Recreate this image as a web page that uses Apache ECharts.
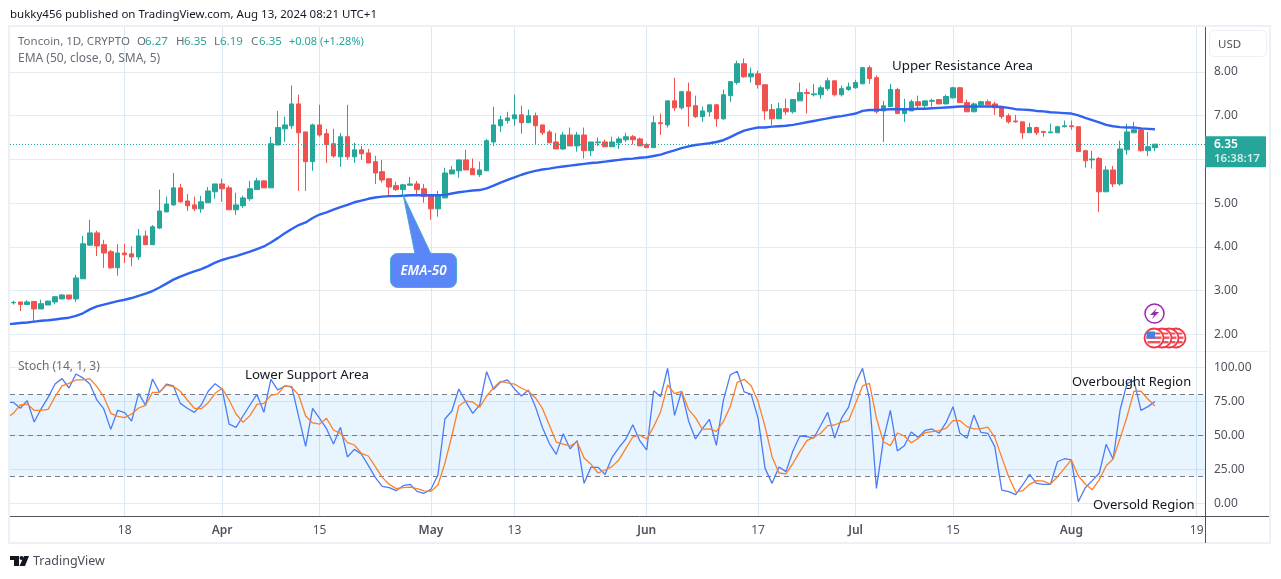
<!DOCTYPE html>
<html>
<head>
<meta charset="utf-8">
<title>Toncoin 1D</title>
<script src="https://cdn.jsdelivr.net/npm/echarts@6/dist/echarts.min.js"></script>
<style>
  html, body { margin: 0; padding: 0; background: #fff; }
  #chart { width: 1281px; height: 579px; }
</style>
</head>
<body>
<div id="chart"></div>
<script>
// day index 0 is 2 Mar 2024, the last candle (164) is 13 Aug
const tickDays = [16, 30, 44, 60, 72, 91, 107, 121, 135, 152, 170];
const tickLabels = ['18', 'Apr', '15', 'May', '13', 'Jun', '17', 'Jul', '15', 'Aug', '19'];
const priceTicks = [2, 3, 4, 5, 6, 7, 8];
const stochTicks = [0, 25, 50, 75, 100];

const opens = [
  2.72,2.74,2.68,2.75,2.58,2.67,2.74,2.81,2.90,2.81,
  3.27,4.04,4.32,4.05,3.89,3.52,3.86,3.84,3.77,4.25,
  4.05,4.43,4.80,4.96,5.35,5.05,4.96,4.87,5.01,5.26,
  5.44,5.35,4.85,4.94,5.10,5.31,5.51,5.35,6.33,6.70,
  6.77,7.27,6.63,5.95,6.79,6.59,6.36,6.06,6.52,6.06,
  6.22,6.15,5.95,5.72,5.56,5.40,5.31,5.41,5.44,5.33,
  5.17,4.87,5.12,5.67,5.74,5.99,5.79,5.65,5.74,6.40,
  6.77,6.89,6.93,7.02,6.84,7.00,6.79,6.63,6.40,6.24,
  6.56,6.31,6.56,6.20,6.38,6.40,6.29,6.38,6.45,6.52,
  6.47,6.34,6.27,6.84,6.79,7.34,7.18,7.55,7.23,6.98,
  7.09,7.25,6.93,7.46,7.76,8.19,7.89,7.96,7.71,7.14,
  6.93,7.16,7.09,7.34,7.53,7.48,7.48,7.62,7.80,7.48,
  7.60,7.64,7.73,8.10,7.87,7.11,7.21,7.60,7.05,7.11,
  7.32,7.23,7.33,7.37,7.27,7.41,7.64,7.30,7.09,7.25,
  7.32,7.27,7.21,7.00,6.88,6.86,6.61,6.73,6.64,6.61,
  6.61,6.75,6.77,6.75,6.20,5.99,6.02,5.26,5.76,5.44,
  6.22,6.61,6.68,6.20,6.27
];
const closes = [
  2.73,2.68,2.74,2.58,2.70,2.76,2.86,2.90,2.81,3.29,
  4.07,4.32,4.02,3.86,3.52,3.86,3.82,3.77,4.25,4.05,
  4.46,4.82,4.98,5.35,5.03,4.94,4.87,5.03,5.28,5.44,
  5.33,4.85,4.96,5.12,5.33,5.51,5.35,6.36,6.73,6.79,
  7.27,6.61,5.95,6.79,6.56,6.34,6.08,6.52,6.06,6.22,
  6.13,5.92,5.69,5.53,5.37,5.31,5.42,5.44,5.31,5.15,
  4.87,5.17,5.69,5.76,5.99,5.76,5.65,5.76,6.43,6.79,
  6.91,6.95,7.02,6.84,7.00,6.77,6.61,6.38,6.24,6.56,
  6.31,6.56,6.20,6.40,6.40,6.29,6.40,6.47,6.52,6.45,
  6.31,6.27,6.84,6.82,7.34,7.18,7.55,7.21,6.98,7.11,
  7.25,6.93,7.48,7.78,8.19,7.89,7.96,7.71,7.11,6.93,
  7.16,7.09,7.37,7.53,7.51,7.50,7.64,7.80,7.48,7.62,
  7.66,7.76,8.10,7.85,7.09,7.23,7.60,7.05,7.14,7.32,
  7.23,7.34,7.35,7.27,7.44,7.64,7.30,7.09,7.27,7.32,
  7.25,7.18,6.98,6.86,6.86,6.61,6.73,6.61,6.62,6.63,
  6.75,6.77,6.75,6.18,5.97,6.01,5.26,5.76,5.44,6.24,
  6.63,6.68,6.20,6.29,6.35
];
const highs = [
  2.77,2.74,2.78,2.76,2.79,2.77,2.86,2.92,2.90,3.36,
  4.25,4.62,4.37,4.16,3.93,4.06,4.07,4.02,4.41,4.37,
  4.50,5.31,5.15,5.69,5.44,5.21,5.15,5.17,5.37,5.44,
  5.56,5.40,5.24,5.17,5.51,5.58,5.51,6.52,7.11,6.98,
  7.69,7.48,6.63,6.82,7.25,6.70,6.70,6.61,7.25,6.38,
  6.31,6.24,6.08,5.99,5.56,5.49,5.44,5.60,5.51,5.44,
  5.19,5.28,5.81,5.85,5.99,6.22,6.02,5.95,6.47,7.21,
  7.00,7.09,7.48,7.23,7.14,7.07,6.79,6.68,6.61,6.63,
  6.73,6.63,6.73,6.40,6.50,6.45,6.52,6.52,6.61,6.56,
  6.50,6.38,7.00,7.05,7.34,7.87,7.57,7.76,7.46,7.21,
  7.25,7.27,7.60,7.78,8.26,8.31,8.10,8.03,7.71,7.27,
  7.30,7.39,7.37,7.76,7.62,7.73,7.69,7.87,7.80,7.69,
  7.76,7.82,8.12,8.15,7.92,7.34,7.73,7.64,7.39,7.37,
  7.46,7.34,7.39,7.37,7.48,7.66,7.66,7.37,7.30,7.34,
  7.37,7.32,7.23,7.05,7.02,6.86,6.84,6.75,6.66,6.82,
  6.77,6.89,6.89,6.75,6.22,6.20,6.06,5.85,5.85,6.43,
  6.82,6.86,6.73,6.63,6.35
];
const lows = [
  2.68,2.53,2.68,2.28,2.58,2.67,2.69,2.80,2.79,2.74,
  3.27,4.02,3.79,3.52,3.50,3.34,3.63,3.56,3.70,4.05,
  4.05,4.41,4.80,4.94,5.01,4.82,4.82,4.78,5.01,5.10,
  5.03,4.85,4.73,4.89,5.05,5.31,5.35,5.35,6.33,6.40,
  6.70,5.28,5.28,5.74,6.52,5.92,6.04,5.83,5.99,5.92,
  5.99,5.92,5.44,5.47,5.15,5.28,5.19,5.40,5.19,5.01,
  4.62,4.69,5.12,5.67,5.58,5.76,5.65,5.60,5.74,6.31,
  6.63,6.82,6.77,6.59,6.84,6.34,6.56,6.38,6.24,6.22,
  6.31,6.18,6.02,6.08,6.31,6.29,6.29,6.24,6.40,6.34,
  6.31,6.27,6.27,6.56,6.73,7.11,7.14,6.75,6.95,6.86,
  6.98,6.75,6.91,7.32,7.71,7.87,7.76,7.62,6.91,6.79,
  6.93,7.02,7.05,7.34,7.05,7.44,7.39,7.57,7.44,7.44,
  7.57,7.62,7.73,7.73,7.05,6.40,7.21,7.05,6.86,7.11,
  7.18,7.14,7.21,7.27,7.27,7.39,7.30,7.09,7.09,7.21,
  7.25,7.02,6.93,6.82,6.84,6.47,6.61,6.56,6.52,6.61,
  6.61,6.73,6.68,6.18,5.81,5.79,4.80,5.26,5.37,5.40,
  6.11,6.61,6.18,6.08,6.19
];

// these three start one day earlier (1 Mar), the pane clips that first point
const ema50 = [
  2.23,
  2.24,2.26,2.27,2.29,2.31,2.32,2.34,2.36,2.38,2.42,
  2.48,2.57,2.64,2.68,2.72,2.76,2.79,2.83,2.88,2.93,
  2.99,3.07,3.16,3.25,3.32,3.38,3.44,3.49,3.56,3.64,
  3.70,3.75,3.79,3.84,3.89,3.95,4.01,4.10,4.20,4.31,
  4.41,4.50,4.56,4.66,4.74,4.79,4.85,4.91,4.96,5.02,
  5.06,5.10,5.13,5.15,5.16,5.16,5.17,5.18,5.18,5.18,
  5.18,5.18,5.19,5.22,5.25,5.27,5.29,5.30,5.34,5.40,
  5.47,5.53,5.59,5.65,5.70,5.74,5.77,5.79,5.82,5.84,
  5.86,5.88,5.90,5.92,5.93,5.95,5.97,5.99,6.01,6.02,
  6.04,6.05,6.08,6.11,6.16,6.21,6.26,6.30,6.33,6.35,
  6.37,6.40,6.44,6.51,6.59,6.66,6.70,6.73,6.73,6.75,
  6.76,6.77,6.79,6.82,6.85,6.88,6.91,6.94,6.97,6.99,
  7.02,7.05,7.11,7.13,7.13,7.14,7.15,7.15,7.15,7.15,
  7.16,7.16,7.17,7.18,7.19,7.20,7.21,7.21,7.21,7.21,
  7.21,7.21,7.20,7.18,7.15,7.14,7.13,7.11,7.10,7.08,
  7.07,7.06,7.05,7.01,6.95,6.90,6.85,6.79,6.76,6.74,
  6.73,6.73,6.71,6.70,6.69
];
const stochK = [
  74.3,
  74.3,69.9,75.5,59.8,69.4,77.9,87.7,91.7,84.8,95.1,
  92.2,87.7,76.0,69.4,54.4,68.4,66.7,60.5,80.9,72.1,
  91.4,81.6,87.7,86.3,73.5,69.9,66.9,72.3,82.4,88.0,
  84.1,58.3,55.9,64.2,72.3,80.1,66.9,91.2,83.3,86.3,
  85.8,63.7,41.9,69.9,62.5,54.9,43.6,55.9,34.1,39.7,
  36.3,27.9,19.1,12.5,11.5,9.3,13.0,14.0,8.8,7.4,
  10.3,20.8,62.0,67.9,84.1,74.8,66.2,72.3,96.8,83.8,
  89.2,90.7,84.1,78.9,83.3,71.1,55.9,44.1,36.0,51.2,
  40.0,46.1,14.7,26.7,26.5,21.3,33.6,40.9,47.3,57.8,
  46.1,39.2,82.8,78.4,99.3,64.7,82.4,60.8,47.3,54.9,
  61.8,42.6,75.5,94.4,97.1,81.9,80.1,62.5,25.7,14.7,
  26.7,23.3,38.5,49.5,49.0,48.0,57.4,66.9,48.0,62.7,
  70.8,88.2,99.3,76.7,11.0,46.6,68.4,38.5,42.4,52.5,
  48.5,53.7,54.7,51.5,59.3,71.1,51.5,47.8,65.0,52.2,
  51.5,41.7,9.8,8.6,6.4,13.5,21.3,14.7,14.0,14.0,
  30.6,32.8,31.9,1.2,11.5,16.7,22.1,43.4,32.4,68.6,
  88.2,90.2,68.4,71.1,74.8
];
const stochD = [
  62.5,
  66.2,72.3,73.0,68.4,68.4,69.1,78.4,86.3,88.2,90.7,
  90.7,91.7,85.8,78.4,66.2,64.0,63.0,65.7,70.1,72.1,
  81.6,81.6,87.0,85.8,82.4,76.0,69.9,69.6,74.0,80.9,
  84.6,76.0,65.7,59.6,64.5,72.8,73.5,79.4,80.4,86.5,
  85.3,79.7,64.2,59.1,58.3,62.5,53.9,51.5,44.6,42.9,
  36.8,34.8,27.0,19.1,14.0,10.8,11.5,12.0,10.8,9.1,
  8.8,13.5,29.4,49.5,71.6,75.2,74.5,70.6,78.9,85.0,
  89.7,88.5,87.7,84.6,82.4,77.7,69.9,57.6,45.1,43.6,
  42.2,45.3,33.3,28.7,22.3,24.5,27.0,31.9,40.4,48.8,
  50.2,47.3,56.4,67.4,87.0,80.6,82.4,69.1,63.0,54.4,
  54.7,52.9,60.0,71.1,89.0,91.2,86.5,74.8,56.4,34.3,
  22.3,21.6,29.4,38.0,46.1,48.5,51.5,57.1,57.6,59.8,
  60.8,73.5,86.3,88.2,62.5,45.3,42.4,51.7,49.5,44.6,
  47.8,52.0,52.7,53.4,55.1,60.8,60.8,56.4,54.7,54.9,
  56.1,48.5,33.8,19.6,8.3,9.3,14.0,16.7,16.4,14.2,
  19.6,25.7,31.9,20.1,14.2,10.0,17.2,27.7,32.6,47.8,
  63.7,82.4,82.4,76.7,71.6
];

const UP = '#26a69a';
const DOWN = '#ef5350';
const GRID_H = '#e4ecf3';
const GRID_V = '#dde8f1';
const AXIS = '#50535e';
const TEXT = '#131722';
const MUTED = '#6a6d78';
const FONT = '"Noto Sans", sans-serif';

const candleData = opens.map((o, i) => [i, o, closes[i], lows[i], highs[i]]);
const dayPoints = vals => vals.map((v, i) => [i - 1, v]);
const lastClose = closes[closes.length - 1];

const chart = echarts.init(document.getElementById('chart'), null, { renderer: 'canvas' });

const xBase = {
  type: 'value',
  min: -0.474,
  max: 171.2,
  axisLine: { show: false },
  axisTick: { show: false, customValues: tickDays },
  splitLine: { show: true, lineStyle: { color: GRID_V, width: 1 } }
};

const option = {
  animation: false,
  backgroundColor: '#fff',
  textStyle: { fontFamily: FONT },
  grid: [
    { left: 10, top: 27, width: 1195, height: 324 },
    { left: 10, top: 351, width: 1195, height: 165 }
  ],
  xAxis: [
    { ...xBase, gridIndex: 0, axisLabel: { show: false, customValues: tickDays } },
    {
      ...xBase,
      gridIndex: 1,
      axisLabel: {
        customValues: tickDays,
        margin: 9,
        hideOverlap: false,
        fontFamily: FONT,
        fontSize: 12,
        color: AXIS,
        formatter: v => {
          const t = tickLabels[tickDays.indexOf(v)];
          return /[a-z]/i.test(t) ? '{m|' + t + '}' : t;
        },
        rich: { m: { fontFamily: FONT, fontSize: 12, fontWeight: 600, color: AXIS } }
      }
    }
  ],
  yAxis: [
    {
      type: 'value', gridIndex: 0, position: 'right', min: 1.618, max: 9.03,
      axisLine: { show: false },
      axisTick: { show: false, customValues: priceTicks },
      splitLine: { show: true, lineStyle: { color: GRID_H } },
      axisLabel: {
        customValues: priceTicks, margin: 9, fontFamily: FONT, fontSize: 12, color: AXIS,
        formatter: v => v.toFixed(2)
      }
    },
    {
      type: 'value', gridIndex: 1, position: 'right', min: -9.3, max: 112,
      axisLine: { show: false },
      axisTick: { show: false, customValues: stochTicks },
      splitLine: { show: true, lineStyle: { color: GRID_H } },
      axisLabel: {
        customValues: stochTicks, margin: 9, fontFamily: FONT, fontSize: 12, color: AXIS,
        formatter: v => v.toFixed(2)
      }
    }
  ],
  series: [
    {
      name: 'Toncoin',
      type: 'candlestick',
      xAxisIndex: 0,
      yAxisIndex: 0,
      barWidth: 5,
      data: candleData,
      itemStyle: { color: UP, color0: DOWN, borderColor: UP, borderColor0: DOWN, borderWidth: 1 },
      markLine: {
        silent: true,
        symbol: 'none',
        label: { show: false },
        lineStyle: { color: UP, type: [1, 2], width: 1 },
        data: [{ yAxis: lastClose }]
      }
    },
    {
      name: 'EMA',
      type: 'line',
      xAxisIndex: 0,
      yAxisIndex: 0,
      data: dayPoints(ema50),
      showSymbol: false,
      lineStyle: { color: '#3062f2', width: 2.4 },
      z: 5
    },
    {
      name: '%K',
      type: 'line',
      xAxisIndex: 1,
      yAxisIndex: 1,
      data: dayPoints(stochK),
      showSymbol: false,
      lineStyle: { color: '#4a7cf7', width: 1.3 },
      z: 5,
      markArea: {
        silent: true,
        itemStyle: { color: 'rgba(33,150,243,0.1)' },
        data: [[{ yAxis: 20 }, { yAxis: 80 }]]
      },
      markLine: {
        silent: true,
        symbol: 'none',
        label: { show: false },
        lineStyle: { color: '#787b86', type: [5, 4], width: 1 },
        data: [{ yAxis: 80 }, { yAxis: 50 }, { yAxis: 20 }]
      }
    },
    {
      name: '%D',
      type: 'line',
      xAxisIndex: 1,
      yAxisIndex: 1,
      data: dayPoints(stochD),
      showSymbol: false,
      lineStyle: { color: '#ff7f27', width: 1.3 },
      z: 6
    }
  ]
};
chart.setOption(option);

// tag on the price scale sits on the last close
const priceY = chart.convertToPixel({ yAxisIndex: 0 }, lastClose);

const label = (x, y, text, size, color, extra) => ({
  type: 'text',
  x, y, z: 50,
  silent: true,
  style: Object.assign({ text, fill: color, font: size + 'px ' + FONT, textVerticalAlign: 'middle' }, extra || {})
});

// flags stack back to front, the front one has the blue corner
const flagIcons = [1176, 1169, 1162, 1154].map((cx, k) => ({
  type: 'group', silent: true,
  children: [
    { type: 'circle', z: 44 + k, shape: { cx, cy: 338, r: 9.5 }, style: { fill: '#fff', stroke: '#f23645', lineWidth: 1.8 } },
    { type: 'rect', z: 44 + k, shape: { x: cx - 6, y: 332.5, width: 12.5, height: 2 }, style: { fill: '#f7525f' } },
    { type: 'rect', z: 44 + k, shape: { x: cx - 7.5, y: 336.5, width: 15, height: 2.4 }, style: { fill: '#f7525f' } },
    { type: 'rect', z: 44 + k, shape: { x: cx - 6.5, y: 341, width: 13, height: 2.4 }, style: { fill: '#f7525f' } }
  ].concat(k === 3 ? [{ type: 'rect', z: 48, shape: { x: cx - 7.5, y: 331.5, width: 8.5, height: 7 }, style: { fill: '#3f83e8' } }] : [])
}));

chart.setOption({
  graphic: [
    // frame and scale lines
    { type: 'rect', z: 40, silent: true, shape: { x: 9, y: 26, width: 1261, height: 517 },
      style: { fill: 'none', stroke: '#edf0f6', lineWidth: 2 } },
    { type: 'line', z: 41, silent: true, shape: { x1: 1205.5, y1: 27, x2: 1205.5, y2: 543 }, style: { stroke: AXIS, lineWidth: 1 } },
    { type: 'line', z: 41, silent: true, shape: { x1: 10, y1: 516.5, x2: 1269, y2: 516.5 }, style: { stroke: AXIS, lineWidth: 1 } },
    { type: 'line', z: 1, silent: true, shape: { x1: 10, y1: 351.5, x2: 1269, y2: 351.5 }, style: { stroke: '#edf0f6', lineWidth: 1 } },

    // top texts
    label(10, 15, 'bukky456 published on TradingView.com, Aug 13, 2024 08:21 UTC+1', 11.5, TEXT),
    label(18, 42, 'Toncoin, 1D, CRYPTO', 11.5, MUTED),
    label(137, 42, 'O', 11.5, MUTED),
    label(145, 42, '6.27', 11.5, UP),
    label(176, 42, 'H', 11.5, MUTED),
    label(184, 42, '6.35', 11.5, UP),
    label(214, 42, 'L', 11.5, MUTED),
    label(220, 42, '6.19', 11.5, UP),
    label(251, 42, 'C', 11.5, MUTED),
    label(259, 42, '6.35', 11.5, UP),
    label(289, 42, '+0.08 (+1.28%)', 11, UP),
    label(18, 59, 'EMA (50, close, 0, SMA, 5)', 12, MUTED),
    label(18, 367, 'Stoch (14, 1, 3)', 12, MUTED),

    // hand-drawn notes on the chart
    label(892, 66.5, 'Upper Resistance Area', 13.3, TEXT),
    label(245, 375.5, 'Lower Support Area', 13.3, TEXT),
    label(1072, 382.5, 'Overbought Region', 12.9, TEXT),
    label(1093, 505.5, 'Oversold Region', 13.1, TEXT),

    // EMA-50 callout
    {
      type: 'polygon', z: 45, silent: true,
      shape: { points: [[403.3, 195.5], [431, 254], [415, 254]] },
      style: { fill: '#5a86f7', stroke: '#47a9d6', lineWidth: 1 }
    },
    {
      type: 'rect', z: 46, silent: true,
      shape: { x: 390.5, y: 253.5, width: 66, height: 34, r: 7 },
      style: { fill: '#5a86f7', stroke: '#47a9d6', lineWidth: 1 }
    },
    { type: 'polygon', z: 47, silent: true, shape: { points: [[416, 252], [430, 252], [431, 255], [415.5, 255]] }, style: { fill: '#5a86f7' } },
    {
      type: 'text', x: 423.5, y: 271, z: 48, silent: true,
      style: { text: 'EMA-50', fill: '#fff', font: 'italic 600 13.5px ' + FONT, textAlign: 'center', textVerticalAlign: 'middle' }
    },

    // price scale
    { type: 'rect', z: 44, silent: true, shape: { x: 1209.5, y: 30.5, width: 57, height: 26, r: 4 }, style: { fill: '#fff', stroke: '#edf0f6', lineWidth: 1 } },
    label(1218, 44.5, 'USD', 11.5, AXIS),
    { type: 'rect', z: 44, silent: true, shape: { x: 1205, y: priceY - 8, width: 61, height: 31, r: 1 }, style: { fill: UP } },
    label(1214, priceY + 0.5, lastClose.toFixed(2), 12, '#fff', { font: '600 12px ' + FONT }),
    label(1214, priceY + 15, '16:38:17', 11.5, '#d4edea', { font: '600 11.5px ' + FONT }),

    // event icons
    { type: 'circle', z: 44, silent: true, shape: { cx: 1154.5, cy: 313.5, r: 9.5 }, style: { fill: '#fff', stroke: '#9c27b0', lineWidth: 1.5 } },
    { type: 'polygon', z: 45, silent: true, shape: { points: [[1157, 308], [1150, 315], [1154, 315], [1152, 319], [1159, 312], [1155, 312]] }, style: { fill: '#9c27b0' } },
    ...flagIcons,

    // TradingView mark
    { type: 'polygon', z: 44, silent: true, shape: { points: [[10, 556], [19, 556], [19, 566], [14, 566], [14, 560], [10, 560]] }, style: { fill: TEXT } },
    { type: 'circle', z: 44, silent: true, shape: { cx: 21.5, cy: 558, r: 2 }, style: { fill: TEXT } },
    { type: 'polygon', z: 44, silent: true, shape: { points: [[24, 556], [29, 556], [25, 566], [19.5, 566]] }, style: { fill: TEXT } },
    label(33, 561, 'TradingView', 12.5, '#4a4d57')
  ]
});
</script>
</body>
</html>
